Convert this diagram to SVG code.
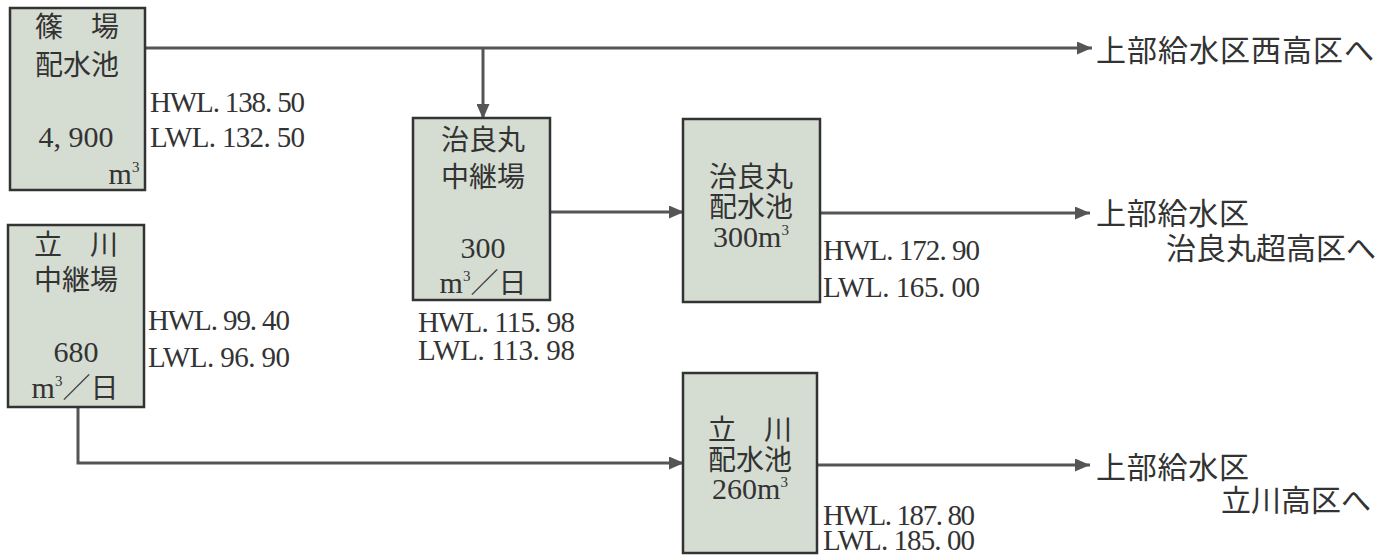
<svg xmlns="http://www.w3.org/2000/svg" width="1389" height="555" viewBox="0 0 1389 555">
<style>
.box{fill:#d5dcd2;stroke:#333;stroke-width:2.5}
.jp{font-family:"Noto Sans CJK JP","Liberation Serif",sans-serif;font-size:28px;fill:#333;text-anchor:middle}
.num{font-family:"Liberation Serif","Noto Sans CJK JP",serif;font-size:30px;fill:#333;text-anchor:middle}
.lv{font-family:"Liberation Serif",serif;font-size:29px;fill:#333}
.lab{font-family:"Noto Sans CJK JP",sans-serif;font-size:30px;fill:#333}
.ln{fill:none;stroke:#555;stroke-width:3;marker-end:url(#ah)}
.sup{font-size:15px}
</style>
<defs>
<marker id="ah" markerUnits="userSpaceOnUse" markerWidth="15" markerHeight="13" refX="15" refY="6.5" orient="auto">
<path d="M0,0 L15,6.5 L0,13 z" fill="#555"/>
</marker>
</defs>
<rect width="1389" height="555" fill="#fff"/>
<g id="connectors">
<path class="ln" d="M145 48 H1092"/>
<path class="ln" d="M483 48 V119"/>
<path class="ln" d="M550 212 H684"/>
<path class="ln" d="M820 213 H1090"/>
<path class="ln" d="M78 407 V463 H684"/>
<path class="ln" d="M817 465 H1090"/>
</g>
<g id="shinoba">
<rect class="box" x="10" y="8" width="135" height="182"/>
<text class="jp" x="77" y="37">篠　場</text>
<text class="jp" x="77" y="75">配水池</text>
<text class="num" x="76" y="147">4, 900</text>
<text class="num" x="124" y="184" text-anchor="end">m<tspan class="sup" dy="-12">3</tspan></text>
<text class="lv" x="150" y="112" textLength="155">HWL. 138. 50</text>
<text class="lv" x="150" y="147" textLength="155">LWL. 132. 50</text>
</g>
<g id="tachikawa-pump">
<rect class="box" x="8" y="225" width="136" height="182"/>
<text class="jp" x="76" y="255">立　川</text>
<text class="jp" x="76" y="290">中継場</text>
<text class="num" x="76" y="362">680</text>
<text class="num" x="75" y="398">m<tspan class="sup" dy="-12">3</tspan><tspan dy="12" font-family="Noto Sans CJK JP" font-size="28">／日</tspan></text>
<text class="lv" x="148" y="330" textLength="142">HWL. 99. 40</text>
<text class="lv" x="148" y="367" textLength="142">LWL. 96. 90</text>
</g>
<g id="jiramaru-pump">
<rect class="box" x="413" y="118" width="137" height="182"/>
<text class="jp" x="483" y="150">治良丸</text>
<text class="jp" x="483" y="187">中継場</text>
<text class="num" x="483" y="258">300</text>
<text class="num" x="483" y="293">m<tspan class="sup" dy="-12">3</tspan><tspan dy="12" font-family="Noto Sans CJK JP" font-size="28">／日</tspan></text>
<text class="lv" x="418" y="332" textLength="157">HWL. 115. 98</text>
<text class="lv" x="418" y="360" textLength="157">LWL. 113. 98</text>
</g>
<g id="jiramaru-res">
<rect class="box" x="683" y="119" width="137" height="183"/>
<text class="jp" x="751" y="187">治良丸</text>
<text class="jp" x="751" y="217">配水池</text>
<text class="num" x="751" y="247">300m<tspan class="sup" dy="-12">3</tspan></text>
<text class="lv" x="823" y="260" textLength="157">HWL. 172. 90</text>
<text class="lv" x="823" y="297" textLength="157">LWL. 165. 00</text>
</g>
<g id="tachikawa-res">
<rect class="box" x="683" y="373" width="134" height="180"/>
<text class="jp" x="750" y="440">立　川</text>
<text class="jp" x="750" y="470">配水池</text>
<text class="num" x="750" y="499">260m<tspan class="sup" dy="-12">3</tspan></text>
<text class="lv" x="823" y="525" textLength="152">HWL. 187. 80</text>
<text class="lv" x="823" y="550" textLength="152">LWL. 185. 00</text>
</g>
<g id="out-west">
<text class="lab" x="1096" y="61" textLength="278">上部給水区西高区へ</text>
</g>
<g id="out-jiramaru">
<text class="lab" x="1096" y="224" textLength="153">上部給水区</text>
<text class="lab" x="1376" y="259" text-anchor="end">治良丸超高区へ</text>
</g>
<g id="out-tachikawa">
<text class="lab" x="1096" y="478" textLength="153">上部給水区</text>
<text class="lab" x="1371" y="511" text-anchor="end">立川高区へ</text>
</g>
</svg>
